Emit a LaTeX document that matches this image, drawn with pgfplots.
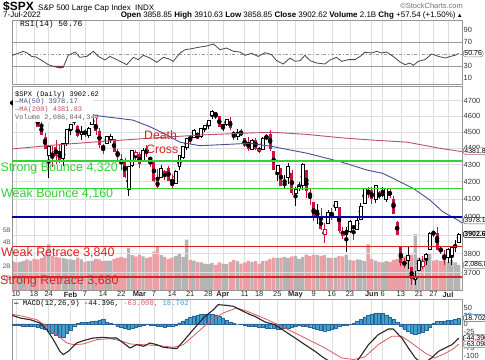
\documentclass[border=0pt]{standalone}
\usepackage{pgfplots}
\pgfplotsset{compat=1.18}
\usepackage{pgfplotstable}
\usepackage{fontspec}
\setmainfont{Liberation Sans}
\setmonofont{Liberation Mono}
\newcommand\fs[1]{\fontsize{#1}{#1}\selectfont}

\definecolor{candred}{RGB}{200,20,60}
\definecolor{volpink}{RGB}{236,160,165}
\definecolor{volgray}{RGB}{180,180,180}
\definecolor{gridc}{RGB}{222,222,222}
\definecolor{framec}{RGB}{150,150,150}
\definecolor{lvgreen}{RGB}{50,210,50}
\definecolor{lvred}{RGB}{215,35,35}
\definecolor{lvblue}{RGB}{0,0,170}
\definecolor{ma50c}{RGB}{70,80,140}
\definecolor{ma200c}{RGB}{190,80,100}
\definecolor{histc}{RGB}{60,160,210}
\definecolor{histd}{RGB}{40,100,150}
\definecolor{rsic}{RGB}{70,70,70}
\definecolor{sigc}{RGB}{220,90,90}

% ---------- candles: hollow black ----------
\pgfplotstableread{
i O H L C
1 4669.14 4714.13 4638.27 4713.07
4 4637.99 4665.13 4614.75 4662.85
9 4356.32 4417.35 4222.62 4410.13
13 4336.19 4432.72 4292.46 4431.85
14 4431.79 4516.89 4414.02 4515.55
15 4519.57 4550.49 4483.53 4546.54
16 4566.39 4595.31 4544.32 4589.38
18 4482.79 4539.66 4451.50 4500.53
20 4480.02 4531.32 4465.40 4521.54
21 4547.00 4590.03 4547.00 4587.18
25 4429.28 4472.77 4429.28 4471.07
26 4455.75 4489.55 4429.68 4475.01
31 4155.77 4294.73 4114.65 4288.70
32 4298.38 4385.34 4286.83 4384.65
35 4322.56 4401.48 4322.56 4386.54
40 4223.10 4299.40 4223.10 4277.88
44 4188.82 4271.05 4187.90 4262.45
45 4288.14 4357.86 4267.92 4357.86
46 4345.11 4412.67 4335.65 4411.67
47 4407.34 4465.40 4390.57 4463.12
49 4469.10 4522.00 4469.10 4511.61
51 4469.98 4520.58 4465.17 4520.16
52 4522.91 4546.03 4501.07 4543.06
53 4541.09 4575.65 4517.69 4575.52
54 4602.86 4637.30 4581.18 4631.60
57 4540.32 4548.70 4507.57 4545.86
58 4547.97 4583.50 4539.21 4582.64
61 4474.65 4521.16 4450.30 4500.21
65 4394.30 4453.92 4392.70 4446.59
68 4390.63 4471.03 4390.63 4462.21
72 4255.34 4299.02 4200.82 4296.12
75 4222.58 4308.45 4188.63 4287.50
77 4130.61 4169.81 4062.51 4155.38
78 4159.78 4200.10 4147.08 4175.48
79 4181.18 4307.66 4148.91 4300.17
86 3963.90 4038.88 3963.90 4023.89
88 4052.00 4090.72 4033.93 4088.85
92 3919.42 3981.88 3909.04 3973.75
94 3929.59 3999.33 3925.03 3978.73
95 3984.60 4075.14 3984.60 4057.84
96 4077.43 4158.49 4077.43 4158.24
99 4095.41 4177.51 4074.37 4176.82
102 4096.47 4164.86 4080.19 4160.68
108 3764.05 3837.56 3722.30 3789.99
110 3665.90 3707.71 3636.87 3674.84
111 3715.31 3779.65 3715.31 3764.79
113 3774.71 3802.58 3743.52 3795.73
114 3821.75 3913.65 3821.75 3911.74
119 3781.00 3829.82 3752.10 3825.33
120 3792.61 3832.19 3742.06 3831.39
121 3831.98 3870.91 3809.37 3845.08
122 3858.85 3910.63 3858.85 3902.62
}\HB
% ---------- hollow red ----------
\pgfplotstableread{
i O H L C
0 4655.34 4673.02 4582.24 4670.29
33 4354.17 4388.84 4315.12 4373.94
41 4252.55 4268.28 4209.80 4259.52
67 4385.63 4410.31 4370.30 4391.69
85 3903.95 3964.80 3858.87 3930.08
90 3899.00 3945.96 3876.58 3900.79
112 3733.89 3785.99 3717.69 3759.89
}\HR
% ---------- red filled ----------
\pgfplotstableread{
i O H L C
-1 4697.66 4707.95 4662.74 4677.03
3 4733.56 4744.13 4650.29 4659.03
5 4632.24 4632.24 4568.70 4577.11
6 4588.03 4611.55 4530.20 4532.76
7 4547.35 4602.11 4477.95 4482.73
8 4471.38 4494.52 4395.34 4397.94
10 4366.64 4411.01 4287.11 4356.45
11 4408.43 4453.23 4304.80 4349.93
12 4380.58 4428.74 4309.50 4326.51
17 4535.41 4542.88 4470.39 4477.44
19 4505.75 4521.86 4471.47 4483.87
22 4553.24 4588.92 4484.31 4504.08
23 4506.27 4526.33 4401.41 4418.64
24 4412.61 4426.22 4364.84 4401.67
27 4456.06 4456.06 4373.81 4380.26
28 4384.57 4394.60 4327.22 4348.87
29 4332.74 4362.12 4267.11 4304.76
30 4324.93 4341.51 4221.51 4225.50
34 4363.14 4378.45 4279.54 4306.26
36 4401.31 4416.78 4345.56 4363.49
37 4342.12 4342.12 4284.98 4328.87
38 4327.01 4327.01 4199.85 4201.09
39 4202.66 4276.94 4157.87 4170.70
42 4279.50 4291.01 4200.49 4204.31
43 4202.75 4247.57 4161.72 4173.11
48 4462.40 4481.75 4424.30 4461.18
50 4493.10 4501.07 4455.81 4456.24
55 4624.20 4627.77 4581.32 4602.45
56 4599.02 4603.07 4530.41 4530.41
59 4572.45 4593.45 4514.17 4525.12
60 4494.17 4503.94 4450.04 4481.15
62 4494.15 4520.41 4474.60 4488.28
63 4462.64 4464.35 4408.38 4412.53
64 4437.59 4471.00 4381.34 4397.45
66 4449.12 4460.46 4390.77 4392.59
69 4472.26 4488.29 4448.76 4459.45
70 4489.17 4512.94 4384.47 4393.66
71 4385.83 4385.83 4267.62 4271.78
73 4278.14 4278.14 4175.04 4175.20
76 4253.75 4269.68 4124.28 4131.93
80 4270.43 4270.43 4106.01 4146.87
81 4128.17 4157.69 4067.91 4123.34
82 4081.27 4081.27 3975.48 3991.24
84 3990.08 4049.09 3928.82 3935.18
87 4013.02 4046.46 3983.99 4008.01
89 4051.98 4051.98 3911.91 3923.68
93 3942.94 3955.68 3875.13 3941.48
97 4151.09 4168.34 4104.88 4132.15
98 4149.78 4166.54 4073.85 4101.23
100 4137.57 4142.67 4098.67 4108.54
103 4147.12 4160.14 4107.20 4115.77
104 4101.65 4119.10 4017.17 4017.82
105 3974.39 3974.39 3900.16 3900.86
106 3838.15 3838.15 3734.30 3749.63
107 3763.52 3778.18 3722.30 3735.48
109 3728.18 3728.18 3639.77 3666.77
115 3920.76 3927.72 3889.66 3900.11
116 3913.00 3945.86 3820.14 3821.55
117 3825.09 3836.50 3799.02 3818.83
118 3785.99 3818.99 3738.67 3785.38
}\RF
% ---------- black filled ----------
\pgfplotstableread{
i O H L C
2 4728.59 4748.83 4706.71 4726.35
74 4186.52 4240.71 4162.90 4183.96
83 4035.18 4068.82 3958.17 4001.05
91 3927.76 3943.42 3810.32 3901.36
101 4134.72 4168.78 4109.18 4121.43
}\BF

% ---------- volume (billions) ----------
\pgfplotstableread{
i v
-1 2.40
0 2.30
3 2.55
5 2.60
6 2.55
7 2.65
8 2.95
10 2.85
11 2.75
12 2.70
17 2.70
19 2.35
22 2.60
23 2.55
24 2.40
27 2.60
28 2.70
29 2.75
30 2.65
33 2.80
34 2.95
36 2.65
37 2.75
38 3.20
39 3.60
41 2.75
42 2.60
43 2.70
48 2.50
50 2.35
55 2.10
56 2.30
59 2.35
60 2.50
62 2.20
63 2.30
64 2.45
66 2.40
67 2.20
69 2.45
70 2.60
71 2.70
73 2.70
76 2.80
80 2.95
81 2.85
82 2.95
84 2.85
85 2.90
87 2.65
89 2.85
90 2.80
93 2.45
97 3.80
98 2.60
100 2.35
103 2.35
104 2.50
105 2.60
106 3.00
107 2.80
109 2.95
112 2.60
115 2.45
116 2.50
117 2.40
118 2.60
}\VolD
\pgfplotstableread{
i v
1 2.35
2 2.40
4 2.45
9 3.80
13 2.65
14 2.60
15 2.55
16 2.50
18 2.55
20 2.40
21 2.45
25 2.45
26 2.45
31 3.50
32 2.90
35 2.80
40 2.90
44 2.85
45 3.00
46 2.75
47 4.20
49 2.45
51 2.30
52 2.20
53 2.15
54 2.25
57 2.20
58 2.15
61 2.40
65 2.35
68 2.40
72 2.65
74 2.75
75 2.65
77 2.85
78 2.60
79 2.75
83 2.90
86 2.70
88 2.70
91 2.95
92 2.50
94 2.55
95 2.50
96 2.40
99 2.45
101 2.30
102 2.40
108 2.85
110 4.65
111 2.70
113 2.55
114 3.05
119 2.35
120 2.50
121 2.30
122 2.09
}\VolU

% ---------- moving averages ----------
\pgfplotstableread{
i p
-1.1 4395
10 4418
23 4440
40 4466
50.7 4481
64.5 4494
70.8 4498
80 4485
90 4463
98 4450
107.7 4437
116.8 4399
122 4381.8
122.9 4379
}\MAlong
\pgfplotstableread{
i p
-1.1 4660
5 4650
12 4630
20.4 4612
23.1 4601
32.2 4575
36.9 4533
41.6 4481
45.2 4436
50.7 4415
58.1 4423
64.5 4430
70.8 4409
80.2 4369
89.3 4318
96.7 4268
101.1 4248
103 4228
109.4 4161
114 4094
117.6 4027
122 3978.2
122.9 3965
}\MAshort

% ---------- RSI ----------
\pgfplotstableread{
i v
-1.65 48.9
-0.9 48
0.5 51
2.0 54.4
3.0 52
4.3 46
5.5 45
7.5 37.8
8.9 32.2
10.3 29.4
12.1 26.7
13.0 27.8
14.4 47.8
16.3 53.3
17.6 44.4
19.5 46
21.3 54.4
22.7 46
24.5 40
25.9 46
28.7 37.8
30.5 32.2
32.3 44.4
33.7 40.6
35.1 47.8
36.9 43.3
38.8 36.1
40.6 44.4
42.0 42.2
43.3 37.8
45.2 51.7
46.6 57.2
48.4 58.9
50.2 61.1
52.5 63.3
54.4 66.7
56.2 57.2
58.0 60
59.9 54.4
61.7 53.3
63.1 47.8
64.9 51.1
66.7 46
68.6 52.2
70.4 48.9
71.8 38.9
73.6 33.3
75.5 43.3
76.9 37.8
78.3 39
79.6 47.8
81.0 38.9
82.8 35
85.1 33.3
86.5 40
88.3 44.4
89.7 37.8
91.6 40.6
93.4 40.6
94.8 46
96.1 52.8
98.0 51.7
99.4 54.4
100.7 51.7
102.1 53.3
103.9 46
105.8 36.7
107.2 32.2
108.5 35
109.5 31.1
110.8 37.8
112.7 40.6
114.5 50
116.4 46
118.2 43.3
119.7 46
120.9 47.8
122.0 50.76
}\RSI

% ---------- MACD ----------
\pgfplotstableread{
i m
-1.65 29.2
1.1 18.75
3.9 13.5
6.6 3.1
8.5 -17.7
10.3 -49
12.1 -85.4
13.0 -95.8
14.4 -85.4
16.7 -59.4
18.5 -52
21.3 -43.75
24.0 -41.7
25.9 -43.75
27.7 -43.75
29.6 -59.4
31.4 -75
33.3 -64.6
35.1 -69.8
36.9 -59.4
38.8 -64.6
40.6 -72.9
42.4 -75
44.3 -77
46.1 -54
48.8 -17.7
51.6 18.75
54.4 44.8
55.7 60.4
58.0 58.3
59.9 55.2
61.7 44.8
64.5 29.2
65.8 24
68.6 6.25
71.3 -2
74.1 -22.9
76.9 -43.75
79.6 -64.6
82.4 -85.4
84.2 -101
86.5 -118
88.5 -128
91.0 -130
93.0 -122
94.3 -111
97.1 -64.6
99.8 -33.3
102.6 -15.6
103.9 -15.6
106.3 -43.75
108.1 -75
110.0 -106
111.5 -120
113.0 -118
114.5 -106
116.4 -85.4
118.2 -75
120.1 -64.6
122.0 -44.4
}\MACD
\pgfplotstableread{
i s
-1.65 31.25
2.0 24
5.7 13.5
8.5 -7.3
11.2 -33.3
14.0 -59.4
15.8 -64.6
18.5 -62.5
22.2 -49
25.9 -45.8
28.7 -52
31.4 -62.5
35.1 -64.6
39.7 -67.7
43.3 -72.9
46.1 -64.6
49.8 -28.1
53.4 8.3
57.1 34.4
60.8 50
63.6 40
68.6 16.7
74.1 -12.5
79.6 -43.75
85.1 -75
89.7 -106
93.0 -111
96.1 -103
99.8 -64.6
103.5 -38.5
106.3 -38.5
109.0 -59.4
112.7 -90.6
115.4 -106
118.2 -92
120.1 -80
122.0 -63.1
}\Sig
\pgfplotstableread{
i h
-1 -3
0 -4
1 -5
2 -6
3 -6
4 -7
5 -8
6 -10
7 -12
8 -15
9 -22
10 -30
11 -36
12 -40
13 -42
14 -30
15 -20
16 -8
17 2
18 5
19 6
20 7
21 8
22 10
23 13
24 14
25 6
26 2
27 -2
28 -6
29 -10
30 -13
31 -15
32 -12
33 -10
34 -8
35 -3
36 -2
37 -3
38 -4
39 -6
40 -8
41 -9
42 -8
43 -6
44 -3
45 4
46 10
47 16
48 21
49 25
50 28
51 30
52 31
53 31
54 30
55 27
56 23
57 18
58 12
59 7
60 3
61 0
62 -2
63 -4
64 -6
65 -7
66 -8
67 -9
68 -10
69 -12
70 -13
71 -14
72 -15
73 -15
74 -14
75 -12
76 -9
77 -6
78 -5
79 -6
80 -8
81 -10
82 -14
83 -17
84 -20
85 -21
86 -20
87 -17
88 -13
89 -8
90 -5
91 -3
92 -1
93 2
94 8
95 15
96 22
97 28
98 32
99 35
100 35
101 33
102 28
103 22
104 14
105 5
106 -6
107 -15
108 -22
109 -28
110 -31
111 -30
112 -26
113 -18
114 -10
115 2
116 8
117 9
118 10
119 11
120 12
121 14
122 18.7
}\Hist

\pgfplotstableread{
i d
-3 0
125 0
}\Span

\pgfplotsset{
  panel/.style={anchor=south west, scale only axis, width=450bp,
    xmin=-1.102, xmax=122.87,
    axis line style={draw=framec, line width=0.6bp},
    xtick={0,5,9,15,19,24,29,34,38,43,48,53,57,63,67,72,77,82,87,92,98,101,106,111,115,119},
    xmajorgrids, grid style={draw=gridc, line width=0.5bp},
    major tick length=0pt, xticklabels={},
    yticklabel pos=right,
    yticklabel style={font=\fs{7.5}, text=black!80, inner sep=1.5bp}},
  overlay/.style={anchor=south west, scale only axis, width=450bp, height=204bp,
    at={(12bp,70bp)}, xmin=-1.102, xmax=122.87, ymin=8.192027, ymax=8.475754,
    hide axis, clip=true},
  wick/.style={only marks, mark=none,
    error bars/y dir=both, error bars/y explicit, error bars/error mark=none,
    error bars/error bar style={draw=#1, line width=0.7bp, solid}},
  cbody/.style 2 args={only marks, mark=none,
    error bars/y dir=both, error bars/y explicit, error bars/error mark=none,
    error bars/error bar style={draw=#1, line width=#2, solid}},
  table/wickt/.style={x=i, y expr={(ln(\thisrow{H})+ln(\thisrow{L}))/2},
    y error expr={(ln(\thisrow{H})-ln(\thisrow{L}))/2}},
  table/bodyt/.style={x=i, y expr={(ln(\thisrow{O})+ln(\thisrow{C}))/2},
    y error expr={max(abs(ln(\thisrow{O})-ln(\thisrow{C}))/2,0.0008)}},
  table/baset/.style={x=i, y expr={min(ln(\thisrow{O}),ln(\thisrow{C}))}},
  table/sizet/.style={x=i, y expr={max(abs(ln(\thisrow{O})-ln(\thisrow{C})),0.0016)}},
}
\tikzset{
  vbox/.style={draw=#1, fill=white, rounded corners=2.5bp, inner xsep=1.2bp,
    inner ysep=0.8bp, font=\fs{7}, anchor=west, line width=0.5bp, xshift=1bp},
}

\begin{document}
\begin{tikzpicture}
\useasboundingbox (0,0) rectangle (485bp,360bp);

% ================= RSI panel =================
\begin{axis}[panel, at={(12bp,276bp)}, height=64bp, ymin=0, ymax=106.67,
  ytick={10,30,70,90}, yticklabels={10,30,70,90}]
\addplot[gray!80, line width=0.6bp] table[x=i, y expr=70]{\Span};
\addplot[gray!80, line width=0.6bp] table[x=i, y expr=30]{\Span};
\addplot[gray!80, line width=0.6bp, dash dot] table[x=i, y expr=50]{\Span};
\addplot[fill={rgb,255:red,150;green,40;blue,50}, draw=none]
  coordinates {(9.9,30) (10.3,29.4) (12.1,26.7) (13.0,27.8) (13.15,30)} -- cycle;
\addplot[rsic, line width=0.8bp] table[x=i, y=v]{\RSI};
\coordinate (rsiB) at (axis cs:122.87,50.76);
\end{axis}
\node[vbox=gray] at (rsiB) {50.76};
\node[anchor=base west, inner sep=0, font=\ttfamily\fs{8}] at (20bp,333bp)
  {RSI(14) 50.76};

% ================= Price panel: volume layer =================
\begin{axis}[panel, at={(12bp,70bp)}, height=204bp, ymin=0, ymax=17,
  axis line style={draw=none},
  ytick={1,2,4,5}, yticklabels={1B,2B,4B,5B}, yticklabel pos=left,
  yticklabel style={font=\fs{6.5}, text=black!65, inner sep=1bp}]
\addplot[ybar, bar width=3.3bp, fill=volpink, draw=none] table[x=i, y=v]{\VolD};
\addplot[ybar, bar width=3.3bp, fill=volgray, draw=none] table[x=i, y=v]{\VolU};
\coordinate (volB) at (axis cs:122.87,2.0868);
\end{axis}

% ================= Price panel: prices (log scale as ln) =================
\begin{axis}[panel, at={(12bp,70bp)}, height=204bp,
  ymin=8.192027, ymax=8.475754, xmajorgrids=false,
  ymajorgrids, 
  ytick={8.216088,8.242756,8.268732,8.294050,8.318742,8.342840,8.366370,8.389360,8.411833,8.433811,8.455318},
  yticklabels={3700,3800,3900,4000,4100,4200,4300,4400,4500,4600,4700},
  xticklabels={10,18,24,\textbf{Feb},7,14,22,\textbf{Mar},7,14,21,28,\textbf{Apr},11,18,25,\textbf{May},9,16,23,\textbf{Jun},6,13,21,27,\textbf{Jul}},
  xticklabel style={font=\fs{7.5}, text=black!85, inner sep=1.5bp}]
% wicks
\addplot[wick=candred] table[wickt]{\RF};
\addplot[wick=black] table[wickt]{\BF};
\addplot[wick=candred] table[wickt]{\HR};
\addplot[wick=black] table[wickt]{\HB};
% filled bodies
\addplot[cbody={candred}{3.0bp}] table[bodyt]{\RF};
\addplot[cbody={black}{3.0bp}] table[bodyt]{\BF};
\coordinate (p200) at (axis cs:122.87,8.385222);
\coordinate (p50) at (axis cs:122.87,8.288577);
\coordinate (pC) at (axis cs:122.87,8.269403);
\end{axis}

% hollow bodies, black outline
\begin{axis}[overlay, ybar stacked, bar width=2.9bp]
\addplot[draw=none, fill=none] table[baset]{\HB};
\addplot[draw=black, fill=white, line width=0.6bp] table[sizet]{\HB};
\end{axis}
% hollow bodies, red outline
\begin{axis}[overlay, ybar stacked, bar width=2.9bp]
\addplot[draw=none, fill=none] table[baset]{\HR};
\addplot[draw=candred, fill=white, line width=0.6bp] table[sizet]{\HR};
\end{axis}
% moving averages and levels
\begin{axis}[overlay]
\addplot[ma200c, line width=0.9bp] table[x=i, y expr={ln(\thisrow{p})}]{\MAlong};
\addplot[ma50c, line width=0.9bp] table[x=i, y expr={ln(\thisrow{p})}]{\MAshort};
\addplot[lvgreen, line width=2bp] table[x=i, y expr={ln(4320)}]{\Span};
\addplot[lvgreen, line width=0.9bp] table[x=i, y expr={ln(4160)}]{\Span};
\addplot[lvblue, line width=2bp] table[x=i, y expr={ln(4000)}]{\Span};
\addplot[lvred, line width=0.9bp] table[x=i, y expr={ln(3840)}]{\Span};
\addplot[lvred, line width=2bp] table[x=i, y expr={ln(3680)}]{\Span};
\end{axis}

\node[vbox=ma200c] at (p200) {4381.83};
\node[vbox=ma50c] at (p50) {3978.17};
\node[vbox=black, font=\bfseries\fs{7}] at (pC) {3902.62};
\node[vbox=gray] at (volB) {2,086,844,344};

% legend box
\fill[white] (13bp,238bp) rectangle (93bp,273bp);
\node[anchor=base west, inner sep=0, font=\ttfamily\fs{7}] at (15bp,263.5bp) {\$SPX (Daily) 3902.62};
\node[anchor=base west, inner sep=0, font=\ttfamily\fs{7}, text=ma50c] at (15bp,256bp) {—MA(50) 3978.17};
\node[anchor=base west, inner sep=0, font=\ttfamily\fs{7}, text=ma200c] at (15bp,248.3bp) {—MA(200) 4381.83};
\node[anchor=base west, inner sep=0, font=\ttfamily\fs{7}, text=black!60] at (15bp,240.8bp) {Volume 2,086,844,344};

% level texts
\node[anchor=base west, inner sep=0, text=lvgreen, font=\fs{12.5}] at (0.5bp,188bp) {Strong Bounce 4,320};
\node[anchor=base west, inner sep=0, text=lvgreen, font=\fs{12.5}] at (1bp,162bp) {Weak Bounce 4,160};
\node[anchor=base west, inner sep=0, text=lvred, font=\fs{12.5}] at (1bp,103bp) {Weak Retrace 3,840};
\node[anchor=base west, inner sep=0, text=lvred, font=\fs{12.5}] at (0bp,75bp) {Strong Retrace 3,680};
\node[anchor=base west, inner sep=0, text=lvred, font=\fs{12.3}] at (144bp,220bp) {Death};
\node[anchor=base west, inner sep=0, text=lvred, font=\fs{12.3}] at (146bp,206bp) {Cross};

% ================= MACD panel =================
\begin{axis}[panel, at={(12bp,-10bp)}, height=71bp, ymin=-143.75, ymax=78.125,
  ytick={50,25,0,-25,-50,-75,-100}, yticklabels={50,25,0,-25,-50,-75,-100}]
\addplot[ybar, bar width=3.3bp, fill=histc, draw=histd, line width=0.3bp] table[x=i, y=h]{\Hist};
\addplot[sigc, line width=0.8bp] table[x=i, y=s]{\Sig};
\addplot[black!85, line width=1.1bp] table[x=i, y=m]{\MACD};
\coordinate (mH) at (axis cs:122.87,18.702);
\coordinate (mM) at (axis cs:122.87,-44.396);
\coordinate (mS) at (axis cs:122.87,-63.098);
\end{axis}
\node[vbox=histd] at (mH) {18.702};
\node[vbox=black] at (mM) {-44.396};
\node[vbox=sigc] at (mS) {-63.098};
\node[anchor=base west, inner sep=0, font=\ttfamily\fs{7.3}] at (14bp,54bp)
  {\textbf{—} MACD(12,26,9) -44.396, {\color{sigc}-63.098,} {\color{histc}18.702}};

% ================= header =================
\node[anchor=base west, inner sep=0, font=\bfseries\fs{12}] at (3bp,349bp) {\$SPX};
\node[anchor=base west, inner sep=0, font=\fs{8}] at (38bp,349.5bp) {S\&P 500 Large Cap Index};
\node[anchor=base west, inner sep=0, font=\fs{8}] at (135bp,349.5bp) {INDX};
\node[anchor=base east, inner sep=0, font=\fs{7.5}, text=black!55] at (463bp,351bp) {\textcopyright StockCharts.com};
\node[anchor=base west, inner sep=0, font=\fs{8}] at (3bp,342bp) {7-Jul-2022};
\node[anchor=base east, inner sep=0, font=\fs{8}] at (463bp,342bp)
  {\textbf{Open} 3858.85  \textbf{High} 3910.63  \textbf{Low} 3858.85  \textbf{Close} 3902.62  \textbf{Volume} 2.1B  \textbf{Chg} +57.54 (+1.50\%)\,{\fs{6}▲}};
\end{tikzpicture}
\end{document}
